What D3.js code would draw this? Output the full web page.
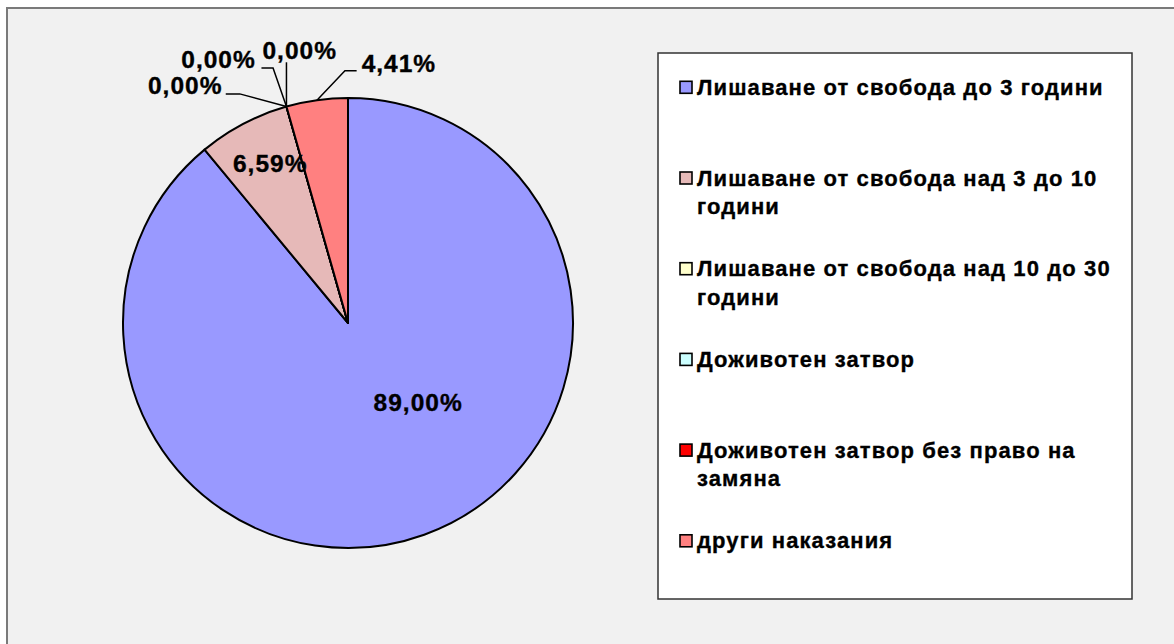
<!DOCTYPE html>
<html>
<head>
<meta charset="utf-8">
<script src="https://cdn.jsdelivr.net/npm/d3@7"></script>
<style>
  html, body { margin: 0; padding: 0; background: #ffffff; }
  svg { display: block; }
  text { font-family: "Liberation Sans", Arial, sans-serif; font-weight: bold; fill: #000; stroke: #000; stroke-width: 0.35px; }
</style>
</head>
<body>
<svg id="chart" width="1174" height="644"></svg>
<script>
// ---- data ----
const categories = [
  "Лишаване от свобода до 3 години",
  "Лишаване от свобода над 3 до 10 години",
  "Лишаване от свобода над 10 до 30 години",
  "Доживотен затвор",
  "Доживотен затвор без право на замяна",
  "други наказания"
];
const values = [89.00, 6.59, 0.00, 0.00, 0.00, 4.41];
const sliceColors = ["#9999ff", "#e6b9b8", "#ffffcc", "#ccffff", "#ff0000", "#ff8080"];

// ---- layout ----
const W = 1174, H = 644;
const cx = 348, cy = 323, R = 225;
const labelFont = 24.5, legendFont = 22;
const labelSpacing = 1.0, legendSpacing = 1.1;

const svg = d3.select("#chart");

// outer chart frame
svg.append("rect")
  .attr("x", 7).attr("y", 8).attr("width", W + 20).attr("height", H + 20)
  .attr("fill", "#f1f1f1").attr("stroke", "#7a7a7a").attr("stroke-width", 2);

const pie = d3.pie().sort(null).value(d => d).startAngle(0).endAngle(2 * Math.PI);
const arcs = pie(values);
const arc = d3.arc().innerRadius(0).outerRadius(R);

const g = svg.append("g").attr("transform", `translate(${cx},${cy})`);
g.selectAll("path.slice")
  .data(arcs)
  .join("path")
  .attr("class", "slice")
  .attr("d", arc)
  .attr("fill", (d, i) => sliceColors[i])
  .attr("stroke", "#000")
  .attr("stroke-width", 2)
  .attr("stroke-linejoin", "round");

const fmt = v => v.toFixed(2).replace(".", ",") + "%";
const polar = (a, r) => [r * Math.sin(a), -r * Math.cos(a)];

// label placement (relative to slice geometry)
const placement = [
  { mode: "inside", angleShift: -21.4, rf: 0.47 },
  { mode: "inside", angleShift: 1.6, rf: 0.79 },
  { mode: "callout", elbow: [-46.7, -12.7], end: [-60.7, -12.7], text: [-65, -21], anchor: "end" },
  { mode: "callout", elbow: [-13.4, -38.7], end: [-25, -38.7], text: [-31.7, -47.7], anchor: "end" },
  { mode: "callout", elbow: [0, -44.3], end: [0, -44.3], text: [-24, -56], anchor: "start" },
  { mode: "callout", elbow: [28, -29.5], end: [39.7, -29.5], text: [44.7, -37.2], anchor: "start" }
];

const lab = svg.append("g").attr("transform", `translate(${cx},${cy})`);
function addLabel(x, y, anchor, str) {
  const t = lab.append("text")
    .attr("y", y + 0.358 * labelFont)
    .style("font-size", labelFont + "px")
    .style("letter-spacing", labelSpacing + "px")
    .text(str);
  const w = t.node().getComputedTextLength() - labelSpacing;
  const left = anchor === "middle" ? x - w / 2 : anchor === "end" ? x - w : x;
  t.attr("x", left);
}
arcs.forEach((d, i) => {
  const p = placement[i];
  const mid = (d.startAngle + d.endAngle) / 2;
  if (p.mode === "inside") {
    const [x, y] = polar(mid + p.angleShift * Math.PI / 180, R * p.rf);
    addLabel(x, y, "middle", fmt(values[i]));
  } else {
    const [ax, ay] = polar(mid, R);
    const pts = [[ax, ay], [ax + p.elbow[0], ay + p.elbow[1]], [ax + p.end[0], ay + p.end[1]]];
    lab.append("path")
      .attr("d", d3.line()(pts))
      .attr("fill", "none").attr("stroke", "#000").attr("stroke-width", 1.5);
    addLabel(ax + p.text[0], ay + p.text[1], p.anchor, fmt(values[i]));
  }
});

// legend
const lx = 658, ly = 53, lw = 474, lh = 546;
svg.append("rect")
  .attr("x", lx).attr("y", ly).attr("width", lw).attr("height", lh)
  .attr("fill", "#ffffff").attr("stroke", "#333").attr("stroke-width", 1.5);

const itemTop = 87.3, itemStep = 90.7, textX = 697, swX = 680, sw = 12, lineH = 28.5, maxW = 425;
const leg = svg.append("g");
categories.forEach((c, i) => {
  const yc = itemTop + i * itemStep;
  leg.append("rect")
    .attr("x", swX).attr("y", yc - sw / 2).attr("width", sw).attr("height", sw)
    .attr("fill", sliceColors[i]).attr("stroke", "#000").attr("stroke-width", 1.6);
  const t = leg.append("text")
    .attr("x", textX).attr("y", yc + 0.345 * legendFont)
    .style("font-size", legendFont + "px")
    .style("letter-spacing", legendSpacing + "px");
  const words = c.split(" ");
  let line = [], ts = t.append("tspan").attr("x", textX).attr("dy", 0);
  words.forEach(w => {
    line.push(w);
    ts.text(line.join(" "));
    if (ts.node().getComputedTextLength() > maxW && line.length > 1) {
      line.pop();
      ts.text(line.join(" "));
      line = [w];
      ts = t.append("tspan").attr("x", textX).attr("dy", lineH).text(w);
    }
  });
});
</script>
</body>
</html>
